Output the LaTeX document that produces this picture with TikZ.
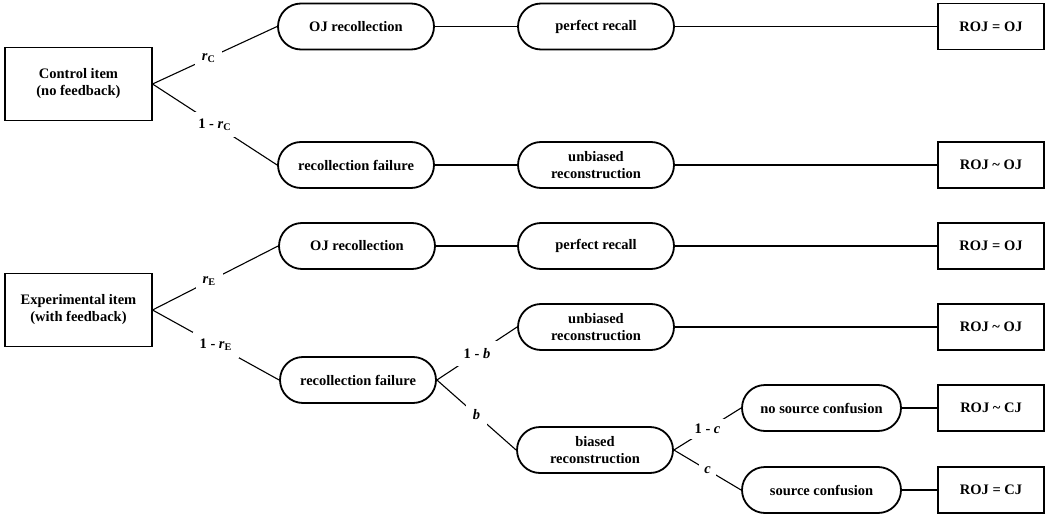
\documentclass[tikz,border=0pt]{standalone}
\usepackage{fontspec}
\setmainfont{Liberation Serif}
\usetikzlibrary{shapes.misc}
\begin{document}
\begin{tikzpicture}[x=1pt,y=-1pt,
  txt/.style={font=\fontsize{14.5}{17}\selectfont\bfseries},
  stad/.style={txt, rounded rectangle, draw, line width=1.8pt, minimum width=160pt, minimum height=46pt, inner sep=2pt, align=center},
  endbox/.style={txt, rectangle, draw, line width=1.1pt, minimum width=106pt, minimum height=46pt},
  startbox/.style={txt, rectangle, draw, line width=1.1pt, minimum width=147pt, minimum height=73pt, align=center},
  conn/.style={line width=1.1pt},
  lbl/.style={txt, fill=white, inner sep=7pt}]
\useasboundingbox (0,0) rectangle (1050,519);

\node[startbox] (ctrl) at (78.5,84) {Control item\\(no feedback)};
\node[startbox] (exp) at (78.5,310) {Experimental item\\(with feedback)};

\node[stad] (oj1) at (356,26.5) {OJ recollection};
\node[stad] (pr1) at (596,26.5) {perfect recall};
\node[endbox] (roj1) at (991,26.5) {ROJ = OJ};

\node[stad] (rf1) at (356,165) {recollection failure};
\node[stad] (ub1) at (596,165) {unbiased\\reconstruction};
\node[endbox] (roj2) at (991,165) {ROJ \textasciitilde{} OJ};

\node[stad] (oj2) at (357,246) {OJ recollection};
\node[stad] (pr2) at (596,246) {perfect recall};
\node[endbox] (roj3) at (991,246) {ROJ = OJ};

\node[stad] (ub2) at (596,327) {unbiased\\reconstruction};
\node[endbox] (roj4) at (991,327) {ROJ \textasciitilde{} OJ};

\node[stad] (rf2) at (358,380) {recollection failure};
\node[stad] (br) at (595,450) {biased\\reconstruction};

\node[stad, minimum width=163pt] (nsc) at (821.5,408) {no source confusion};
\node[endbox] (roj5) at (991,408) {ROJ \textasciitilde{} CJ};
\node[stad, minimum width=163pt] (sc) at (821.5,490) {source confusion};
\node[endbox] (roj6) at (991,490) {ROJ = CJ};

\draw[conn] (ctrl.east) -- node[lbl, pos=0.45] {\textit{r}\textsubscript{C}} (oj1.west);
\draw[conn] (ctrl.east) -- node[lbl] {1 - \textit{r}\textsubscript{C}} (rf1.west);
\draw[conn] (oj1.east) -- (pr1.west);
\draw[conn] (pr1.east) -- (roj1.west);
\draw[conn] (rf1.east) -- (ub1.west);
\draw[conn] (ub1.east) -- (roj2.west);

\draw[conn] (exp.east) -- node[lbl, pos=0.45] {\textit{r}\textsubscript{E}} (oj2.west);
\draw[conn] (exp.east) -- node[lbl] {1 - \textit{r}\textsubscript{E}} (rf2.west);
\draw[conn] (oj2.east) -- (pr2.west);
\draw[conn] (pr2.east) -- (roj3.west);
\draw[conn] (rf2.east) -- node[lbl] {1 - \textit{b}} (ub2.west);
\draw[conn] (rf2.east) -- node[lbl] {\textit{b}} (br.west);
\draw[conn] (ub2.east) -- (roj4.west);
\draw[conn] (br.east) -- node[lbl, inner sep=5pt] {1 - \textit{c}} (nsc.west);
\draw[conn] (br.east) -- node[lbl, inner sep=5pt] {\textit{c}} (sc.west);
\draw[conn] (nsc.east) -- (roj5.west);
\draw[conn] (sc.east) -- (roj6.west);
\end{tikzpicture}
\end{document}
